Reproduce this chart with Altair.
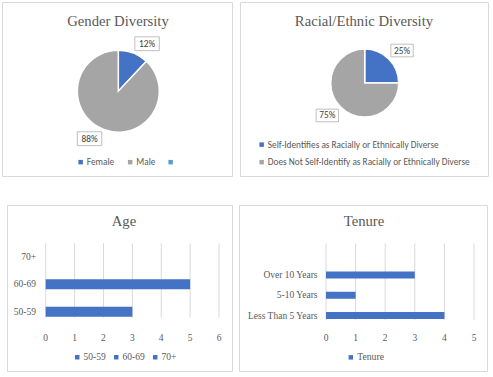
import altair as alt
import pandas as pd

# ---------------- data ----------------
gender_categories = ["Female", "Male"]
gender_values = [12, 88]
gender_legend_items = ["Female", "Male", " "]

racial_categories = [
    "Self-Identifies as Racially or Ethnically Diverse",
    "Does Not Self-Identify as Racially or Ethnically Diverse",
]
racial_values = [25, 75]

age_categories = ["70+", "60-69", "50-59"]
age_values = [0, 5, 3]
age_legend_items = ["50-59", "60-69", "70+"]
age_ticks = [0, 1, 2, 3, 4, 5, 6]

tenure_categories = ["Over 10 Years", "5-10 Years", "Less Than 5 Years"]
tenure_values = [3, 1, 4]
tenure_series = ["Tenure"]
tenure_ticks = [0, 1, 2, 3, 4, 5]

titles = ["Gender Diversity", "Racial/Ethnic Diversity", "Age", "Tenure"]

# ---------------- styles ----------------
BLUE = "#4472C4"
GRAY = "#A5A5A5"
LBLUE = "#5B9BD5"
GRID = "#d9d9d9"
TXT = "#595959"
SERIF = "Liberation Serif"
SANS = "Carlito, Lato, sans-serif"

one = alt.Data(values=[{"k": 1}])


def panel(x0, y0, x1, y1):
    return alt.Chart(one).mark_rect(fill="white", stroke=GRID, strokeWidth=1).encode(
        x=alt.value(x0), x2=alt.value(x1), y=alt.value(y0), y2=alt.value(y1)
    )


def title(t, x, y):
    return alt.Chart(one).mark_text(
        text=t, font=SERIF, fontSize=14.7, color=TXT, align="center", baseline="middle"
    ).encode(x=alt.value(x), y=alt.value(y))


BOX_PATH = "M-1,-0.565L1,-0.565L1,0.565L-1,0.565Z"


def pie(df, domain, colors, cx, cy, r, lab_r, lab_off, box_size, legend):
    arc = alt.Chart(df).mark_arc(outerRadius=r, stroke="white", strokeWidth=1.5).encode(
        theta=alt.Theta("value:Q", stack=True),
        order=alt.Order("order:Q"),
        color=alt.Color("category:N", scale=alt.Scale(domain=domain, range=colors), legend=legend),
        x=alt.value(cx),
        y=alt.value(cy),
    )
    lbl = (
        alt.Chart(df)
        .transform_joinaggregate(total="sum(value)")
        .transform_window(cum="sum(value)", sort=[alt.SortField("order")])
        .transform_calculate(
            mid=f"(datum.cum - datum.value/2)/datum.total*2*PI + {lab_off}",
            px=f"{cx} + {lab_r}*sin(datum.mid)",
            py=f"{cy} - {lab_r}*cos(datum.mid)",
            lab="datum.value + '%'",
        )
    )
    box = lbl.mark_point(
        shape=BOX_PATH, size=box_size, filled=True, fill="white", stroke="#bfbfbf",
        strokeWidth=1, opacity=1,
    ).encode(x=alt.X("px:Q", scale=None), y=alt.Y("py:Q", scale=None))
    txt = lbl.mark_text(font=SANS, fontSize=9.3, color="#404040", baseline="middle").encode(
        x=alt.X("px:Q", scale=None), y=alt.Y("py:Q", scale=None), text="lab:N"
    )
    return alt.layer(arc, box, txt)


def legend(x, y, font, size, direction="horizontal", **kw):
    return alt.Legend(orient="none", legendX=x, legendY=y, direction=direction, title=None,
                      symbolType="square", symbolSize=20, symbolStrokeWidth=0, labelFont=font,
                      labelFontSize=size, labelColor=TXT, labelOffset=1.5, padding=0,
                      gridAlign="none", **kw)


gender_df = pd.DataFrame({"category": gender_categories, "value": gender_values,
                          "order": list(range(len(gender_categories)))})
racial_df = pd.DataFrame({"category": racial_categories, "value": racial_values,
                          "order": list(range(len(racial_categories)))})

gender = pie(
    gender_df, gender_legend_items, [BLUE, GRAY, LBLUE], 118.3, 91.2, 41, 55.5, 0.168, 600,
    legend(76, 157.5, SANS, 9.3, columnPadding=10.5),
)
racial = pie(
    racial_df, racial_categories, [BLUE, GRAY], 364.7, 83, 34, 49.5, 0.07, 500,
    legend(257, 140, SANS, 9.3, direction="vertical", rowPadding=7.5, labelLimit=300),
)


def bars(cats, vals, ticks, x0, x1, y0, y1, grid_top, grid_bot, bar_size, lab_x,
         series, legend_domain, leg):
    df = pd.DataFrame({"category": cats, "value": vals, "series": series})
    tdf = pd.DataFrame({"tick": ticks})
    xs = alt.Scale(domain=[ticks[0], ticks[-1]], range=[x0, x1], nice=False, zero=False)
    ys = alt.Scale(domain=cats, range=[y0, y1], paddingInner=0, paddingOuter=0)
    grid = alt.Chart(tdf).mark_rule(color=GRID, strokeWidth=1).encode(
        x=alt.X("tick:Q", scale=xs, axis=None), y=alt.value(grid_top), y2=alt.value(grid_bot)
    )
    b = alt.Chart(df).mark_bar(size=bar_size).encode(
        x=alt.X("value:Q", scale=xs, axis=None),
        y=alt.Y("category:N", scale=ys, axis=None),
        color=alt.Color("series:N", scale=alt.Scale(domain=legend_domain, range=[BLUE] * len(legend_domain)),
                        legend=leg),
    )
    xl = alt.Chart(tdf).mark_text(font=SERIF, fontSize=9.5, color=TXT, baseline="middle").encode(
        x=alt.X("tick:Q", scale=xs, axis=None), y=alt.value(338), text="tick:Q"
    )
    yl = alt.Chart(df).mark_text(font=SERIF, fontSize=9.5, color=TXT, align="right",
                                 baseline="middle").encode(
        x=alt.value(lab_x), y=alt.Y("category:N", scale=ys, axis=None), text="category:N"
    )
    return alt.layer(grid, b, xl, yl)


age = bars(
    age_categories, age_values, age_ticks, 45.7, 219, 243.3, 325.3, 243.3, 317.7, 10, 36,
    age_categories, age_legend_items,
    legend(72.5, 352.5, SERIF, 9.5, columnPadding=5),
)
tenure = bars(
    tenure_categories, tenure_values, tenure_ticks, 326, 474, 264.8, 325.7, 243.3, 320, 7, 317.5,
    tenure_series * len(tenure_categories), tenure_series,
    legend(346, 352.5, SERIF, 9.7),
)

chart = (
    alt.layer(
        panel(2.5, 2.5, 232.5, 176.5),
        panel(240.5, 2.5, 488.5, 176.5),
        panel(7.5, 205.5, 232.5, 371.5),
        panel(239.5, 205.5, 487.5, 371.5),
        title(titles[0], 118, 22),
        title(titles[1], 364, 22),
        title(titles[2], 124, 222),
        title(titles[3], 364, 222),
        gender,
        racial,
        age,
        tenure,
    )
    .resolve_scale(x="independent", y="independent", color="independent", theta="independent")
    .properties(width=493, height=377, autosize=alt.AutoSizeParams(type="none"), padding=0,
                background="white")
    .configure_view(stroke=None)
)

chart.save("out.html", embed_options={"renderer": "svg", "actions": False})
